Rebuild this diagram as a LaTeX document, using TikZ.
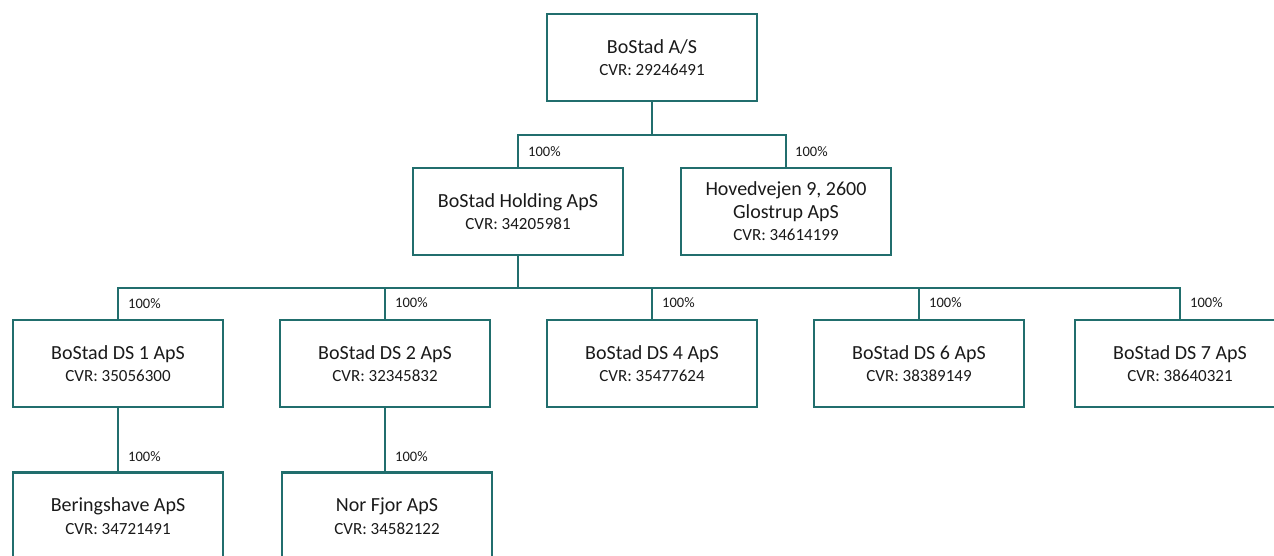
\documentclass[tikz,border=0pt]{standalone}
\usepackage{fontspec}
\setmainfont{Carlito}
\definecolor{teal}{HTML}{216E6D}
\definecolor{txt}{HTML}{1A1A1A}
\tikzset{
  ent/.style={draw=teal, line width=2.4pt, rectangle, minimum width=210pt, minimum height=87pt, align=center, inner sep=0pt, text=txt, font=\fontsize{20}{22.5}\selectfont},
  conn/.style={draw=teal, line width=2.4pt},
  pct/.style={inner sep=0pt, anchor=west, text=txt, font=\fontsize{14.5}{17}\selectfont},
}
\newcommand{\cvr}[1]{{\fontsize{17}{22.5}\selectfont CVR: #1}}
\begin{document}
\begin{tikzpicture}[x=1pt,y=-1pt]
\clip (0,0) rectangle (1274,556);
\fill[white] (0,0) rectangle (1274,556);
\node[ent] (top) at (652,57.5) {BoStad A/S\\\cvr{29246491}};
\node[ent] (hold) at (518,211.5) {BoStad Holding ApS\\\cvr{34205981}};
\node[ent] (hov) at (786,211.5) {Hovedvejen 9, 2600\\Glostrup ApS\\\cvr{34614199}};
\node[ent] (ds1) at (118,363.5) {BoStad DS 1 ApS\\\cvr{35056300}};
\node[ent] (ds2) at (385,363.5) {BoStad DS 2 ApS\\\cvr{32345832}};
\node[ent] (ds4) at (652,363.5) {BoStad DS 4 ApS\\\cvr{35477624}};
\node[ent] (ds6) at (919,363.5) {BoStad DS 6 ApS\\\cvr{38389149}};
\node[ent] (ds7) at (1180,363.5) {BoStad DS 7 ApS\\\cvr{38640321}};
\node[ent] (ber) at (118,516) {Beringshave ApS\\\cvr{34721491}};
\node[ent] (nor) at (387,516) {Nor Fjor ApS\\\cvr{34582122}};
\coordinate (bus1) at (652,135);
\coordinate (bus2) at (518,288);
% level 1 -> 2
\draw[conn] (top.south) -- (bus1) -| (hold.north);
\draw[conn] (bus1) -| (hov.north);
% level 2 -> 3
\draw[conn] (hold.south) -- (bus2) -| (ds1.north);
\draw[conn] (bus2) -| (ds2.north);
\draw[conn] (bus2) -| (ds4.north);
\draw[conn] (bus2) -| (ds6.north);
\draw[conn] (bus2) -| (ds7.north);
% level 3 -> 4
\draw[conn] (ds1.south) -- (ber.north);
\draw[conn] (ds2.south) -- (ds2.south |- nor.north);
% labels
\node[pct] (p1) at ([xshift=10pt,yshift=15pt]hold.north) {100\%};
\node[pct] (p2) at ([xshift=9pt,yshift=15pt]hov.north) {100\%};
\node[pct] (p3) at ([xshift=10pt,yshift=15pt]ds1.north) {100\%};
\node[pct] (p4) at ([xshift=10pt,yshift=16pt]ds2.north) {100\%};
\node[pct] (p5) at ([xshift=10pt,yshift=16pt]ds4.north) {100\%};
\node[pct] (p6) at ([xshift=10pt,yshift=16pt]ds6.north) {100\%};
\node[pct] (p7) at ([xshift=10pt,yshift=16pt]ds7.north) {100\%};
\node[pct] (p8) at ([xshift=10pt,yshift=15pt]ber.north) {100\%};
\node[pct] (p9) at ([xshift=8pt,yshift=15pt]nor.north) {100\%};
\end{tikzpicture}
\end{document}
